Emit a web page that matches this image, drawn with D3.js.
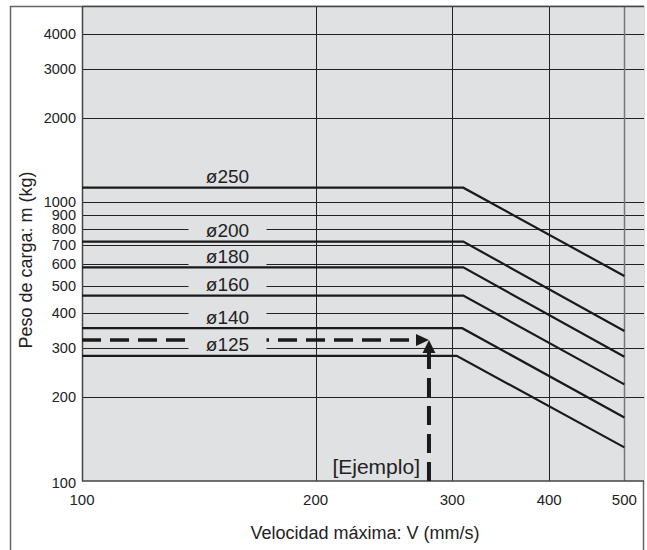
<!DOCTYPE html>
<html lang="es">
<head>
<meta charset="UTF-8">
<title>Peso de carga vs velocidad</title>
<script src="https://d3js.org/d3.v7.min.js"></script>
<style>
    body { margin: 0; background: #fff; }
    svg { display: block; font-family: "Liberation Sans", Arial, sans-serif; }
    text { fill: #222; }
</style>
</head>
<body>
<div id="chart"></div>
<script>
    // curve data
    const diameters = ["ø250", "ø200", "ø180", "ø160", "ø140", "ø125"];
    const flatMass  = [1125, 721, 583, 462, 353, 281];   // kg, constant part
    const kneeSpeed = [310, 310, 310, 310, 309, 304];    // mm/s where it starts to fall
    const endMass   = [543, 345, 279, 222, 169, 132];    // kg at 500 mm/s
    const minSpeed = 100, maxSpeed = 500;

    const xTicks = [100, 200, 300, 400, 500];
    const yTicks = [100, 200, 300, 400, 500, 600, 700, 800, 900, 1000, 2000, 3000, 4000];

    const exampleSpeed = 280, exampleMass = 320;
    const labelSpeed = 154;

    const width = 647, height = 550;
    const plotLeft = 82, plotRight = 644, plotTop = 6, plotBottom = 481;

    const svg = d3.select("#chart").append("svg")
        .attr("width", width)
        .attr("height", height);

    const x = d3.scaleLog().domain([100, 530]).range([plotLeft, plotRight]);
    const y = d3.scaleLog().domain([100, 5040]).range([plotBottom, plotTop]);

    // outer frame
    svg.append("path")
        .attr("d", `M10.5,${height} V${plotTop + 0.5} H643.5 V${height}`)
        .attr("fill", "none")
        .attr("stroke", "#666")
        .attr("stroke-width", 1.5);

    // plot background
    svg.append("rect")
        .attr("x", plotLeft).attr("y", plotTop)
        .attr("width", plotRight - plotLeft).attr("height", plotBottom - plotTop)
        .attr("fill", "#e0e1e3");

    // grid
    svg.append("g").selectAll("line")
        .data(yTicks.filter(d => d > 100))
        .join("line")
        .attr("x1", plotLeft).attr("x2", plotRight)
        .attr("y1", d => Math.round(y(d)) + 0.5)
        .attr("y2", d => Math.round(y(d)) + 0.5)
        .attr("stroke", "#222")
        .attr("stroke-width", 1);

    svg.append("g").selectAll("line")
        .data(xTicks.filter(d => d > 100))
        .join("line")
        .attr("x1", d => Math.round(x(d)) + 0.5)
        .attr("x2", d => Math.round(x(d)) + 0.5)
        .attr("y1", plotTop).attr("y2", plotBottom)
        .attr("stroke", d => d === 500 ? "#777" : "#222")
        .attr("stroke-width", d => d === 500 ? 1.5 : 1);

    // plot border
    svg.append("path")
        .attr("d", `M${plotLeft + 0.5},${plotTop} V${plotBottom} H${plotRight}`)
        .attr("fill", "none")
        .attr("stroke", "#444")
        .attr("stroke-width", 1.5);
    svg.append("line")
        .attr("x1", plotLeft).attr("x2", plotRight)
        .attr("y1", plotTop + 0.5).attr("y2", plotTop + 0.5)
        .attr("stroke", "#444").attr("stroke-width", 1.5);

    // example: dashed arrows
    const ex = x(exampleSpeed), ey = y(exampleMass);
    svg.append("line")
        .attr("x1", plotLeft).attr("x2", ex - 12)
        .attr("y1", ey).attr("y2", ey)
        .attr("stroke", "#1a1a1a")
        .attr("stroke-width", 3.5)
        .attr("stroke-dasharray", "19 9");
    svg.append("path")
        .attr("d", `M${ex},${ey} L${ex - 13},${ey - 6} L${ex - 13},${ey + 6} Z`)
        .attr("fill", "#1a1a1a");
    svg.append("line")
        .attr("x1", ex).attr("x2", ex)
        .attr("y1", plotBottom).attr("y2", ey + 12)
        .attr("stroke", "#1a1a1a")
        .attr("stroke-width", 4)
        .attr("stroke-dasharray", "19 9");
    svg.append("path")
        .attr("d", `M${ex},${ey} L${ex - 6.5},${ey + 13} L${ex + 6.5},${ey + 13} Z`)
        .attr("fill", "#1a1a1a");

    // label backgrounds cut the grid
    const lx = x(labelSpeed);
    svg.append("g").selectAll("rect")
        .data(diameters.slice(1))
        .join("rect")
        .attr("x", lx - 39).attr("width", 78)
        .attr("y", (d, i) => y(flatMass[i + 1]) - 21)
        .attr("height", 20)
        .attr("fill", "#e0e1e3");

    // curves
    const line = d3.line().x(d => x(d[0])).y(d => y(d[1]));
    svg.append("g").selectAll("path")
        .data(diameters.map((d, i) => [
            [minSpeed, flatMass[i]],
            [kneeSpeed[i], flatMass[i]],
            [maxSpeed, endMass[i]]
        ]))
        .join("path")
        .attr("d", line)
        .attr("fill", "none")
        .attr("stroke", "#1a1a1a")
        .attr("stroke-width", 2.2);

    svg.append("g").selectAll("text")
        .data(diameters)
        .join("text")
        .attr("x", lx)
        .attr("y", (d, i) => y(flatMass[i]) - 11)
        .attr("dy", "0.35em")
        .attr("text-anchor", "middle")
        .attr("font-size", 19)
        .text(d => d);

    svg.append("text")
        .attr("x", ex - 9).attr("y", 474)
        .attr("text-anchor", "end")
        .attr("font-size", 21)
        .text("[Ejemplo]");

    // tick labels
    svg.append("g").selectAll("text")
        .data(yTicks)
        .join("text")
        .attr("x", 76)
        .attr("y", d => y(d) + (d === 100 ? 2 : 0))
        .attr("dy", "0.35em")
        .attr("text-anchor", "end")
        .attr("font-size", 14.5)
        .text(d => d);

    svg.append("g").selectAll("text")
        .data(xTicks)
        .join("text")
        .attr("x", d => x(d))
        .attr("y", 500)
        .attr("dy", "0.35em")
        .attr("text-anchor", "middle")
        .attr("font-size", 15)
        .text(d => d);

    // axis titles
    svg.append("text")
        .attr("x", 365).attr("y", 533)
        .attr("dy", "0.35em")
        .attr("text-anchor", "middle")
        .attr("font-size", 18)
        .text("Velocidad máxima: V (mm/s)");

    svg.append("text")
        .attr("transform", "translate(26,260) rotate(-90)")
        .attr("dy", "0.35em")
        .attr("text-anchor", "middle")
        .attr("font-size", 18)
        .text("Peso de carga: m (kg)");
</script>
</body>
</html>
